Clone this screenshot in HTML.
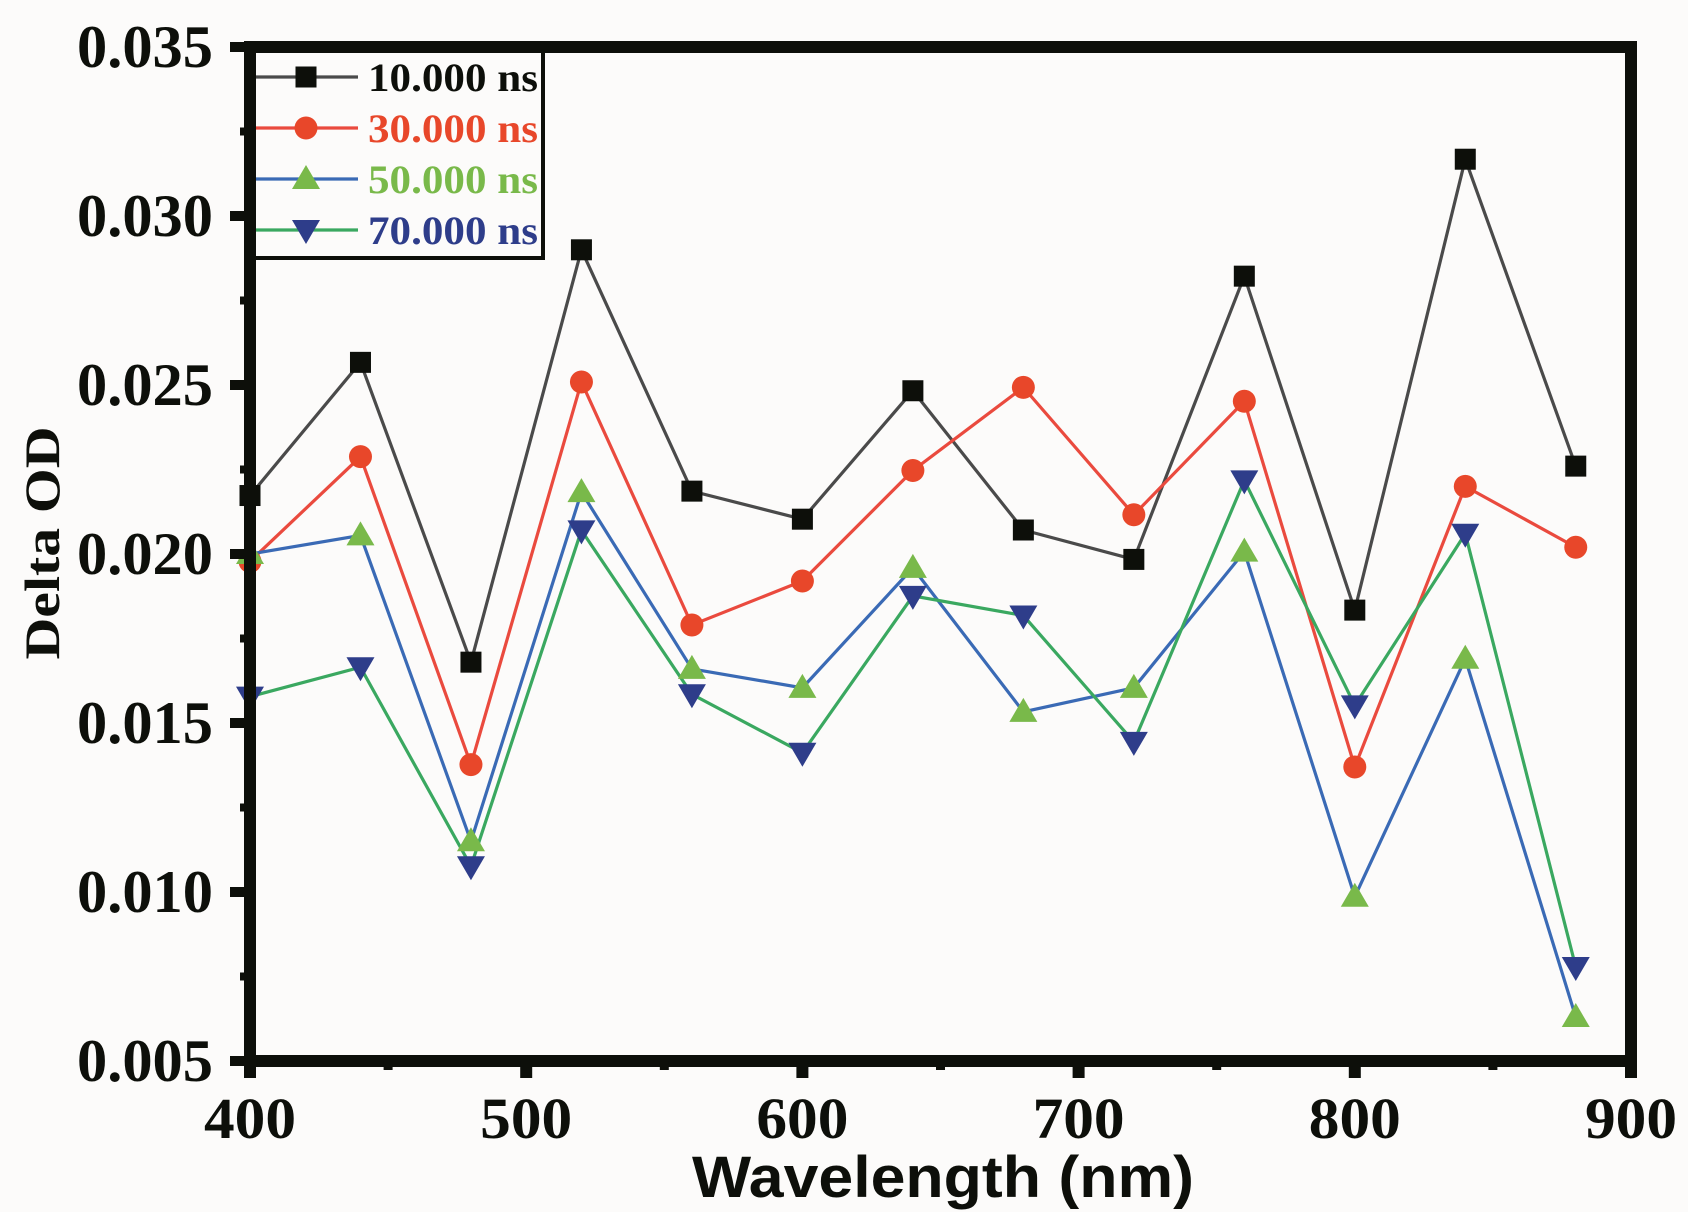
<!DOCTYPE html>
<html><head><meta charset="utf-8"><style>html,body{margin:0;padding:0;background:#fcfbfa}svg{display:block}</style></head>
<body>
<svg width="1688" height="1230" viewBox="0 0 1688 1230" xmlns="http://www.w3.org/2000/svg">
<rect width="1688" height="1230" fill="#fcfbfa"/>
<rect x="0" y="1212" width="1688" height="18" fill="#ffffff"/>
<g id="plot"></g>
<script>
(function(){
var NS="http://www.w3.org/2000/svg";
var g=document.getElementById('plot');
var SERIF="'Liberation Serif', 'Times New Roman', serif";
function X(w){return 250+(w-400)*2.762;}
function Y(v){return 1061-(v-0.005)/0.005*169;}
function el(n,a,t){var e=document.createElementNS(NS,n);for(var k in a)e.setAttribute(k,a[k]);if(t!==undefined)e.textContent=t;g.appendChild(e);return e;}
var xs=[400,440,480,520,560,600,640,680,720,760,800,840,880];
var S=[
 {d:[0.02173,0.02567,0.0168,0.029,0.02186,0.02103,0.02483,0.02071,0.01984,0.02822,0.01834,0.03168,0.0226],line:"#4a4a4a",m:"sq",mc:"#0d0f0a"},
 {d:[0.01978,0.02288,0.01377,0.02509,0.0179,0.0192,0.02247,0.02493,0.02116,0.02452,0.0137,0.022,0.0202],line:"#ea4a3e",m:"ci",mc:"#e8472a"},
 {d:[0.020,0.02055,0.0115,0.02183,0.0166,0.01604,0.01959,0.01533,0.01604,0.02007,0.00986,0.0169,0.0063],line:"#3a6ab5",m:"up",mc:"#79b94a"},
 {d:[0.01578,0.01665,0.01076,0.0207,0.01585,0.01412,0.01876,0.01818,0.01444,0.02218,0.01552,0.0206,0.00778],line:"#3aa860",m:"dn",mc:"#2e3d8a"}
];
function marker(m,x,y,c){
 if(m=="sq")el('rect',{x:x-10.5,y:y-10.5,width:21,height:21,fill:c});
 else if(m=="ci")el('circle',{cx:x,cy:y,r:11.5,fill:c});
 else if(m=="up")el('polygon',{points:(x-14)+","+(y+10)+" "+(x+14)+","+(y+10)+" "+x+","+(y-14),fill:c});
 else el('polygon',{points:(x-14)+","+(y-10)+" "+(x+14)+","+(y-10)+" "+x+","+(y+14),fill:c});
}
S.forEach(function(s){
 var p=xs.map(function(w,i){return X(w)+","+Y(s.d[i]);}).join(" ");
 el('polyline',{points:p,fill:"none",stroke:s.line,"stroke-width":3.2});
});
S.forEach(function(s){xs.forEach(function(w,i){marker(s.m,X(w),Y(s.d[i]),s.mc);});});
el('rect',{x:254,y:51,width:289,height:207,fill:"#fcfbfa",stroke:"#0d0f0a","stroke-width":4});
var labs=["10.000 ns","30.000 ns","50.000 ns","70.000 ns"],tc=["#0d0f0a","#e8472a","#79b94a","#2e3d8a"],ly=[77,128,179,230];
S.forEach(function(s,i){
 el('line',{x1:256,y1:ly[i],x2:358,y2:ly[i],stroke:s.line,"stroke-width":3.2});
 marker(s.m,306,ly[i],s.mc);
 el('text',{x:368,y:ly[i]+14,"font-family":SERIF,"font-weight":"bold","font-size":40,fill:tc[i],textLength:170,lengthAdjust:"spacingAndGlyphs"},labs[i]);
});
el('rect',{x:250,y:47,width:1381,height:1014,fill:"none",stroke:"#0d0f0a","stroke-width":12});
var yl=["0.005","0.010","0.015","0.020","0.025","0.030","0.035"];
for(var i=0;i<7;i++){var v=0.005+i*0.005,y=Y(v);
 el('line',{x1:230,y1:y,x2:250,y2:y,stroke:"#0d0f0a","stroke-width":10});
 el('text',{x:213,y:y+20,"text-anchor":"end","font-family":SERIF,"font-weight":"bold","font-size":60,fill:"#0d0f0a",textLength:136,lengthAdjust:"spacingAndGlyphs"},yl[i]);
 if(i<6){var ym=Y(v+0.0025);el('line',{x1:240,y1:ym,x2:250,y2:ym,stroke:"#0d0f0a","stroke-width":8});}
}
for(var w=400;w<=900;w+=100){var x=X(w);
 el('line',{x1:x,y1:1061,x2:x,y2:1078,stroke:"#0d0f0a","stroke-width":12});
 el('text',{x:x,y:1138,"text-anchor":"middle","font-family":SERIF,"font-weight":"bold","font-size":58,fill:"#0d0f0a",textLength:92,lengthAdjust:"spacingAndGlyphs"},String(w));
 if(w<900){var xm=X(w+50);el('line',{x1:xm,y1:1061,x2:xm,y2:1070,stroke:"#0d0f0a","stroke-width":9});}
}
el('text',{x:943,y:1197,"text-anchor":"middle","font-family":"'Liberation Sans', sans-serif","font-weight":"bold","font-size":58,fill:"#0d0f0a",textLength:502,lengthAdjust:"spacingAndGlyphs"},"Wavelength (nm)");
el('text',{x:0,y:0,transform:"translate(59,543) rotate(-90)","text-anchor":"middle","font-family":SERIF,"font-weight":"bold","font-size":50,fill:"#0d0f0a",textLength:233,lengthAdjust:"spacingAndGlyphs"},"Delta OD");
})();
</script>
</svg>
</body></html>
